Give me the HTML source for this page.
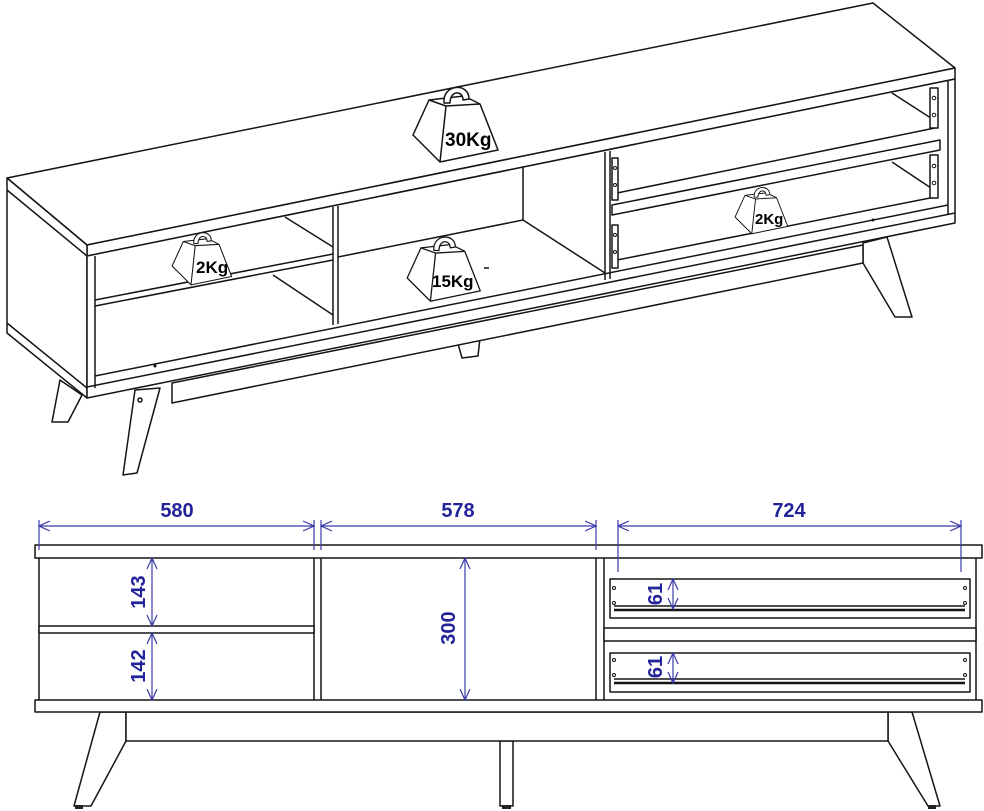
<!DOCTYPE html>
<html><head><meta charset="utf-8"><style>
html,body{margin:0;padding:0;background:#fff;}
svg{display:block;}
.l{stroke:#151515;stroke-width:1.5;fill:none;stroke-linejoin:round;}
.f{stroke:#151515;stroke-width:1.5;fill:#fff;stroke-linejoin:round;}
.d{stroke:#3a3aa8;stroke-width:1.2;fill:none;}
.dt{fill:#23239a;font-family:"Liberation Sans",sans-serif;font-weight:bold;font-size:20px;}
.kg{fill:#000;font-family:"Liberation Sans",sans-serif;font-weight:bold;}
</style></head><body>
<svg width="984" height="811" viewBox="0 0 984 811" xmlns="http://www.w3.org/2000/svg">
<defs>
<g id="w">
<polygon class="f" points="29,15 64,11 80,19 98,65 40,77 13,50"/>
<polyline class="l" points="29,15 46,21 80,19"/>
<line class="l" x1="46" y1="21" x2="40" y2="77"/>
<path class="f" d="M44,18 C42,-1 69,-3 69,14 L63,15 C63,5 50,5 50,18 Z"/>
</g>
<marker id="ah" viewBox="0 0 12 12" refX="11" refY="6" markerWidth="12" markerHeight="12" orient="auto-start-reverse" markerUnits="userSpaceOnUse"><path d="M0,1 L11,6 L0,11" fill="none" stroke="#3a3aa8" stroke-width="1.2"/></marker>
</defs>

<!-- ===== perspective view ===== -->
<polygon class="f" points="60,380 82,395 68,422 52,422"/>
<polygon class="f" points="457,340 480,338 478,356 462,358"/>
<polygon class="f" points="863,243 887,237 912,317 895,317 863,263"/>
<polygon class="f" points="172,383 863,245 863,263 172,403"/>
<polygon class="f" points="135,390 160,388 137,473 123,475"/>
<circle cx="140" cy="400" r="2" class="l"/>
<polygon class="f" points="7,178 873,3 955,68 87,245"/>
<polygon class="f" points="87,245 955,68 955,79 87,256"/>
<polygon class="f" points="7,178 87,245 87,398 7,333"/>
<line class="l" x1="7" y1="190" x2="87" y2="256"/>
<line class="l" x1="7" y1="323" x2="87" y2="388"/>
<polygon class="f" points="87,256 955,79 955,223 87,398"/>
<line class="l" x1="95" y1="256" x2="95" y2="388"/>
<line class="l" x1="948" y1="81" x2="948" y2="214"/>
<line class="l" x1="87" y1="387" x2="955" y2="213"/>
<line class="l" x1="95" y1="376" x2="948" y2="205"/>
<line class="l" x1="285" y1="217" x2="333" y2="247"/>
<line class="l" x1="273" y1="275" x2="333" y2="315"/>
<line class="l" x1="95" y1="300" x2="333" y2="254"/>
<line class="l" x1="95" y1="306" x2="333" y2="260"/>
<line class="l" x1="333" y1="207" x2="333" y2="325"/>
<line class="l" x1="338" y1="206" x2="338" y2="324"/>
<line class="l" x1="338" y1="257" x2="523" y2="220"/>
<line class="l" x1="523" y1="167" x2="523" y2="220"/>
<line class="l" x1="523" y1="220" x2="605" y2="273"/>
<line class="l" x1="605" y1="152" x2="605" y2="280"/>
<line class="l" x1="610" y1="151" x2="610" y2="279"/>
<line class="l" x1="892" y1="93" x2="937" y2="122"/>
<line class="l" x1="892" y1="162" x2="937" y2="192"/>
<line class="l" x1="617" y1="193" x2="935" y2="128" stroke-width="2.5"/>
<polygon class="f" points="612,205 940,140 940,150 612,215"/>
<line class="l" x1="617" y1="260" x2="935" y2="197" stroke-width="2.5"/>
<rect class="f" x="612" y="158" width="6" height="42"/>
<rect class="f" x="612" y="225" width="6" height="43"/>
<rect class="f" x="930" y="88" width="8" height="40"/>
<rect class="f" x="930" y="155" width="8" height="43"/>
<g fill="none" stroke="#151515" stroke-width="1"><circle cx="615" cy="168" r="1.5"/><circle cx="615" cy="185" r="1.5"/><circle cx="615" cy="235" r="1.5"/><circle cx="615" cy="252" r="1.5"/><circle cx="934" cy="98" r="1.8"/><circle cx="934" cy="115" r="1.8"/><circle cx="934" cy="166" r="1.8"/><circle cx="934" cy="183" r="1.8"/></g>
<circle cx="155" cy="366" r="1.5" fill="#111"/>
<circle cx="873" cy="220" r="1.5" fill="#111"/>
<line x1="484" y1="268" x2="489" y2="268" stroke="#111" stroke-width="1.5"/>
<use href="#w" transform="translate(400,85)"/>
<text class="kg" x="445" y="146" font-size="19">30Kg</text>
<use href="#w" transform="translate(163,231) scale(0.7)"/>
<text class="kg" x="196" y="273" font-size="17">2Kg</text>
<use href="#w" transform="translate(396,235) scale(0.86)"/>
<text class="kg" x="432" y="287" font-size="17">15Kg</text>
<use href="#w" transform="translate(727,186) scale(0.62)"/>
<text class="kg" x="755" y="224" font-size="15">2Kg</text>

<!-- ===== front view ===== -->
<polygon class="f" points="100,712 126,712 126,741 91,806 74,806"/>
<polygon class="f" points="912,712 888,712 888,741 928,806 940,806"/>
<rect class="f" x="500" y="741" width="13" height="65"/>
<rect class="f" x="126" y="712" width="762" height="29"/>
<rect x="75" y="805" width="8" height="4" fill="#222"/>
<rect x="502" y="805" width="9" height="4" fill="#222"/>
<rect x="928" y="805" width="8" height="4" fill="#222"/>
<rect class="f" x="35" y="545" width="947" height="13"/>
<rect class="f" x="35" y="700" width="947" height="12"/>
<line class="l" x1="39" y1="558" x2="39" y2="700"/>
<line class="l" x1="976" y1="558" x2="976" y2="700"/>
<line class="l" x1="314" y1="558" x2="314" y2="700"/>
<line class="l" x1="321" y1="558" x2="321" y2="700"/>
<line class="l" x1="596" y1="558" x2="596" y2="700"/>
<line class="l" x1="604" y1="558" x2="604" y2="700"/>
<rect class="f" x="39" y="626" width="275" height="7"/>
<rect class="f" x="604" y="628" width="372" height="13"/>
<rect class="f" x="610" y="579" width="360" height="39"/>
<line x1="614" y1="610" x2="965" y2="610" stroke="#151515" stroke-width="2.5"/>
<line class="l" x1="614" y1="606" x2="965" y2="606" stroke-width="1"/>
<rect class="f" x="610" y="653" width="360" height="39"/>
<line x1="614" y1="683" x2="965" y2="683" stroke="#151515" stroke-width="2.5"/>
<line class="l" x1="614" y1="679" x2="965" y2="679" stroke-width="1"/>
<g fill="none" stroke="#151515" stroke-width="1"><circle cx="614" cy="588" r="1.5"/><circle cx="614" cy="603" r="1.5"/><circle cx="965" cy="588" r="1.5"/><circle cx="965" cy="603" r="1.5"/><circle cx="614" cy="660" r="1.5"/><circle cx="614" cy="675" r="1.5"/><circle cx="965" cy="660" r="1.5"/><circle cx="965" cy="675" r="1.5"/></g>

<g class="d">
<line x1="39" y1="520" x2="39" y2="550"/>
<line x1="314" y1="520" x2="314" y2="550"/>
<line x1="321" y1="520" x2="321" y2="550"/>
<line x1="596" y1="520" x2="596" y2="550"/>
<line x1="618" y1="520" x2="618" y2="572"/>
<line x1="961" y1="520" x2="961" y2="572"/>
<line x1="39" y1="526" x2="314" y2="526" marker-start="url(#ah)" marker-end="url(#ah)"/>
<line x1="321" y1="526" x2="596" y2="526" marker-start="url(#ah)" marker-end="url(#ah)"/>
<line x1="618" y1="526" x2="961" y2="526" marker-start="url(#ah)" marker-end="url(#ah)"/>
<line x1="152" y1="558" x2="152" y2="626" marker-start="url(#ah)" marker-end="url(#ah)"/>
<line x1="152" y1="633" x2="152" y2="700" marker-start="url(#ah)" marker-end="url(#ah)"/>
<line x1="465" y1="558" x2="465" y2="700" marker-start="url(#ah)" marker-end="url(#ah)"/>
<line x1="673" y1="579" x2="673" y2="609" marker-start="url(#ah)" marker-end="url(#ah)"/>
<line x1="673" y1="653" x2="673" y2="683" marker-start="url(#ah)" marker-end="url(#ah)"/>
</g>
<text class="dt" x="177" y="517" text-anchor="middle">580</text>
<text class="dt" x="458" y="517" text-anchor="middle">578</text>
<text class="dt" x="789" y="517" text-anchor="middle">724</text>
<text class="dt" transform="translate(145,592) rotate(-90)" text-anchor="middle">143</text>
<text class="dt" transform="translate(145,666) rotate(-90)" text-anchor="middle">142</text>
<text class="dt" transform="translate(455,628) rotate(-90)" text-anchor="middle">300</text>
<text class="dt" transform="translate(662,594) rotate(-90)" text-anchor="middle">61</text>
<text class="dt" transform="translate(662,667) rotate(-90)" text-anchor="middle">61</text>
</svg>
</body></html>
